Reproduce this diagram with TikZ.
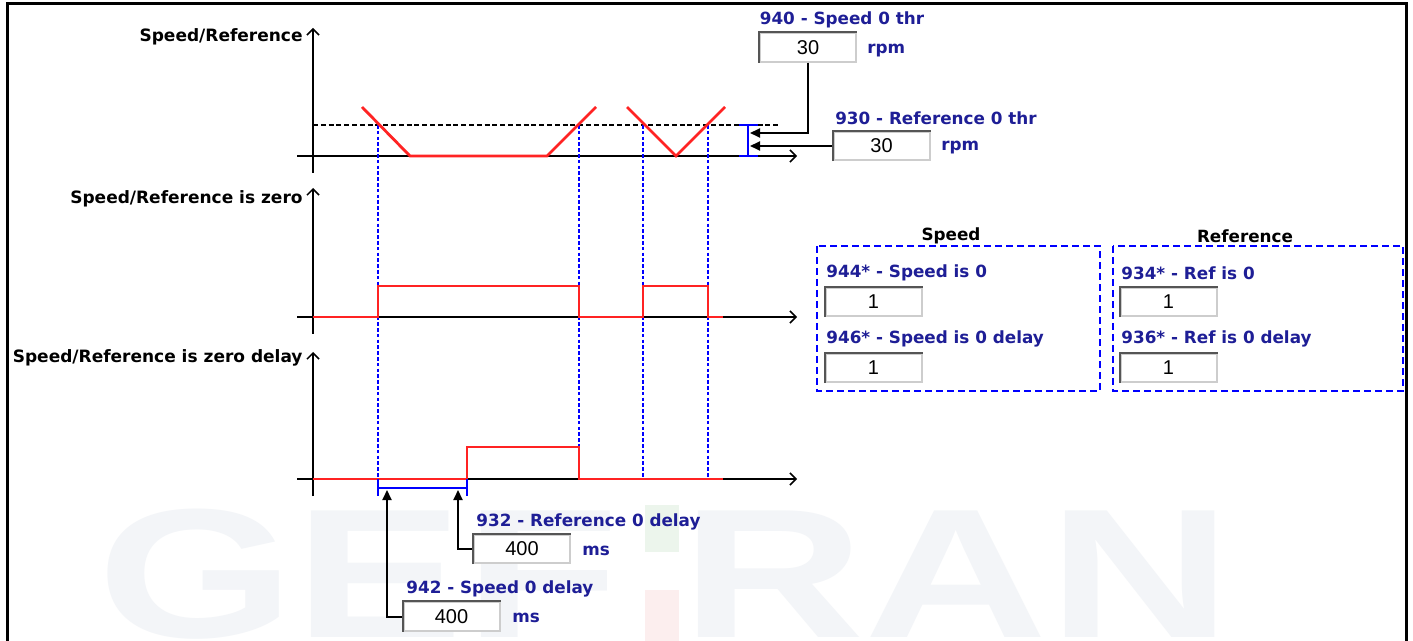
\documentclass[tikz,border=0pt]{standalone}
\usepackage{fontspec}
\setmainfont{DejaVu Sans}
\newfontfamily\numfont{Liberation Sans}
\newfontfamily\wmfont[FakeStretch=1.38]{Liberation Sans}
\usetikzlibrary{arrows.meta}
\definecolor{lblue}{RGB}{30,30,150}
\definecolor{sigred}{RGB}{255,35,35}
\definecolor{wm}{RGB}{243,245,248}
\definecolor{wmgreen}{RGB}{236,245,236}
\definecolor{wmred}{RGB}{252,238,238}
\definecolor{boxdark}{RGB}{85,85,85}
\definecolor{boxlight}{RGB}{205,205,205}
\begin{document}
\begin{tikzpicture}[x=0.5pt,y=-0.5pt,
  axislbl/.style={font=\fontsize{8.5}{10}\selectfont\bfseries, anchor=east, inner sep=0pt},
  parlbl/.style={font=\fontsize{8.4}{10}\selectfont\bfseries, text=lblue, inner sep=0pt},
  grptitle/.style={font=\fontsize{8.4}{10}\selectfont\bfseries, text=black, inner sep=0pt},
  valbox/.style={draw=boxlight, line width=1pt, fill=white, minimum width=48pt, minimum height=14.2pt, inner sep=0pt, font=\numfont\fontsize{10}{11}\selectfont},
  boxedge/.style={draw=boxdark, line width=1pt},
  axisline/.style={line width=0.75pt, -{Straight Barb[length=3pt,width=6pt]}},
  thrline/.style={line width=1.1pt, dash pattern=on 2.5pt off 1.4pt},
  bluedash/.style={draw=blue, line width=1.2pt, dash pattern=on 1.8pt off 1.1pt},
  grpdash/.style={draw=blue, line width=1.3pt, dash pattern=on 3.5pt off 2pt},
  sig/.style={draw=sigred, line width=1.4pt, line join=miter},
  bluebar/.style={draw=blue, line width=1.1pt},
  leader/.style={line width=1pt, -{Triangle[length=5pt,width=4.5pt]}},
  wmtext/.style={font=\wmfont\fontsize{92}{92}\selectfont\bfseries, text=wm, inner sep=0pt, anchor=base west}
]
\useasboundingbox (0,0) rectangle (1413,641);
\fill[white] (0,0) rectangle (1413,641);
% watermark
\begin{scope}
  \clip (0,0) rectangle (1413,641);
  \node[wmtext] (wmgef) at (97,637) {GEF};
  \node[wmtext] (wmran) at (681,637) {RAN};
  \fill[wmgreen] (645,505) rectangle (679,552);
  \fill[wmred] (645,590) rectangle (679,645);
\end{scope}
% frame
\draw[line width=1.5pt] (7,660) -- (7,4) -- (1406,4) -- (1406,660);

% axis labels
\node[axislbl] (lab1) at (303,37) {Speed/Reference};
\node[axislbl] (lab2) at (303,199) {Speed/Reference is zero};
\node[axislbl] (lab3) at (303,358) {Speed/Reference is zero delay};

% axes
\draw[axisline] (313,173) -- (313,28);
\draw[axisline] (297,156) -- (797,156);
\draw[axisline] (313,334) -- (313,188);
\draw[axisline] (297,317) -- (797,317);
\draw[axisline] (313,496) -- (313,352);
\draw[axisline] (297,479) -- (797,479);

% threshold
\draw[thrline] (313,125) -- (778,125);

% blue dashed verticals
\foreach \xx in {378,579,643,708} \draw[bluedash] (\xx,125) -- (\xx,479);

% signals
\draw[sig] (362,107) -- (410,156) -- (547,156) -- (596,107);
\draw[sig] (627,107) -- (676,156) -- (725,107);
\draw[sig] (313,317) -- (378,317) -- (378,286) -- (579,286) -- (579,317) -- (643,317) -- (643,286) -- (708,286) -- (708,317) -- (723,317);
\draw[sig] (313,479) -- (467,479) -- (467,447) -- (579,447) -- (579,479) -- (723,479);

% threshold bar
\draw[bluebar] (739,125) -- (758,125) (748,125) -- (748,156) (739,156) -- (758,156);
\coordinate (t1) at (750,133);
\coordinate (t2) at (750,146);

% delay bracket
\draw[bluebar] (378,479) -- (378,496) (378,488) -- (467,488) (467,479) -- (467,496);
\coordinate (t3) at (387,490);
\coordinate (t4) at (458,490);

% threshold parameters
\node[parlbl] (l940) at (842,20) {940 - Speed 0 thr};
\node[valbox] (b940) at (808,47.5) {30};
\node[parlbl, anchor=west] (u940) at (867,51) {rpm};
\node[parlbl] (l930) at (936,118) {930 - Reference 0 thr};
\node[valbox] (b930) at (881.5,146) {30};
\node[parlbl, anchor=west] (u930) at (941,148) {rpm};
\draw[leader] (b940.south) |- (t1);
\draw[leader] (b930.west) -- (t2);

% delay parameters
\node[parlbl, anchor=west] (l932) at (476,522) {932 - Reference 0 delay};
\node[valbox] (b932) at (522,549) {400};
\node[parlbl, anchor=west] (u932) at (582,551) {ms};
\node[parlbl, anchor=west] (l942) at (406,589) {942 - Speed 0 delay};
\node[valbox] (b942) at (451.5,616.5) {400};
\node[parlbl, anchor=west] (u942) at (512,618) {ms};
\draw[leader] (b932.west) -| (t4);
\draw[leader] (b942.west) -| (t3);

% status groups
\draw[grpdash] (817,246) rectangle (1100,391);
\draw[grpdash] (1113,246) rectangle (1403,391);
\node[grptitle] (tsp) at (951,236) {Speed};
\node[grptitle] (tre) at (1245,236) {Reference};
\node[parlbl, anchor=west] (l944) at (826,273) {944* - Speed is 0};
\node[valbox] (bs1) at (873.5,302) {1};
\node[parlbl, anchor=west] (l946) at (826,339) {946* - Speed is 0 delay};
\node[valbox] (bs2) at (873.5,368) {1};
\node[parlbl, anchor=west] (l934) at (1121,273) {934* - Ref is 0};
\node[valbox] (br1) at (1168.5,302) {1};
\node[parlbl, anchor=west] (l936) at (1121,339) {936* - Ref is 0 delay};
\node[valbox] (br2) at (1168.5,368) {1};

\foreach \b in {b940,b930,b932,b942,bs1,bs2,br1,br2}
  \draw[boxedge] (\b.south west) |- (\b.north east);
\end{tikzpicture}
\end{document}
